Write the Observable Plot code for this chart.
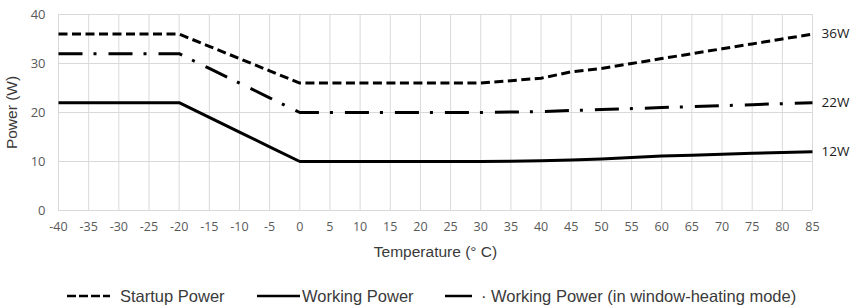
<!DOCTYPE html>
<html>
<head>
<meta charset="utf-8">
<script src="https://cdn.jsdelivr.net/npm/d3@7"></script>
<script src="https://cdn.jsdelivr.net/npm/@observablehq/plot@0.6"></script>
<style>
  html, body { margin: 0; padding: 0; background: #fff; }
  #chart { width: 859px; }
  .legend { position: relative; height: 26px; font-family: "Liberation Sans", Arial, sans-serif; font-size: 16.5px; color: #3a3a3a; }
  .legend .item { position: absolute; top: 0; height: 26px; display: flex; align-items: center; white-space: nowrap; }
  .legend svg { display: block; }
</style>
</head>
<body>
<div id="chart"></div>
<script>
const temperatures = [-40,-35,-30,-25,-20,-15,-10,-5,0,5,10,15,20,25,30,35,40,45,50,55,60,65,70,75,80,85];
const startupPower = [36,36,36,36,36,33.5,31,28.5,26,26,26,26,26,26,26,26.5,27,28.3,29,30,31,32,33,34,35,36];
const workingPower = [22,22,22,22,22,19,16,13,10,10,10,10,10,10,10,10.05,10.15,10.3,10.5,10.8,11.1,11.3,11.5,11.7,11.85,12];
const heatingPower = [32,32,32,32,32,29,26,23,20,20,20,20,20,20,20,20.1,20.2,20.4,20.6,20.8,21,21.2,21.4,21.6,21.8,22];
const seriesNames = ["Startup Power", "Working Power", "Working Power (in window-heating mode)"];
const legendLabels = ["Startup Power", "Working Power", "\u00b7 Working Power (in window-heating mode)"];
const endLabels = ["36W", "12W", "22W"];
const yTicks = [0, 10, 20, 30, 40];

const styles = [
  {dash: "9,4.5", legendDash: "9,3", legendLeft: 67, legendW: 43, textGap: 10},
  {dash: null, legendDash: null, legendLeft: 257, legendW: 43, textGap: 2},
  {dash: "24,11,3,12", legendDash: "30,5", legendLeft: 445, legendW: 27, textGap: 9}
];

const seriesValues = [startupPower, workingPower, heatingPower];
const rows = [];
seriesValues.forEach((vals, si) => {
  vals.forEach((v, i) => rows.push({series: seriesNames[si], t: temperatures[i], p: v}));
});
const lastRows = seriesValues.map((vals, si) => ({series: seriesNames[si], t: temperatures[temperatures.length - 1], p: vals[vals.length - 1], label: endLabels[si]}));

const marks = [
  Plot.gridX(temperatures, {stroke: "#d9d9d9", strokeOpacity: 1, strokeWidth: 1}),
  Plot.gridY(yTicks, {stroke: "#d9d9d9", strokeOpacity: 1, strokeWidth: 1}),
  Plot.axisX(temperatures, {tickSize: 0, tickPadding: 12, fontSize: 12.5, fill: "#595959", fontFamily: "Open Sans", label: null, tickFormat: d => String(d)}),
  Plot.axisY(yTicks, {tickSize: 0, tickPadding: 13, fontSize: 13, fill: "#595959", fontFamily: "Open Sans", label: null, tickFormat: d => String(d)}),
  Plot.text(["Temperature (\u00b0 C)"], {frameAnchor: "bottom", dy: 46, fontSize: 15.5, fontFamily: "Liberation Sans", fill: "#3a3a3a"}),
  Plot.text(["Power (W)"], {frameAnchor: "left", textAnchor: "middle", dx: -46, rotate: -90, fontSize: 15.5, fontFamily: "Liberation Sans", fill: "#3a3a3a"})
];
seriesNames.forEach((name, si) => {
  marks.push(Plot.line(rows.filter(r => r.series === name), {x: "t", y: "p", stroke: "#000", strokeWidth: 3, strokeDasharray: styles[si].dash, strokeLinejoin: "round", strokeLinecap: "butt"}));
});
marks.push(Plot.text(lastRows, {x: "t", y: "p", text: "label", dx: 9, textAnchor: "start", fontSize: 13.5, fontFamily: "Open Sans", fill: "#1a1a1a"}));

const chart = Plot.plot({
  width: 859,
  height: 283,
  marginLeft: 58,
  marginRight: 47,
  marginTop: 14,
  marginBottom: 73,
  style: {background: "#fff", overflow: "visible"},
  x: {domain: [-40, 85]},
  y: {domain: [0, 40]},
  marks
});
document.getElementById("chart").appendChild(chart);

const legend = document.createElement("div");
legend.className = "legend";
styles.forEach((s, i) => {
  const item = document.createElement("div");
  item.className = "item";
  item.style.left = s.legendLeft + "px";
  const ns = "http://www.w3.org/2000/svg";
  const svg = document.createElementNS(ns, "svg");
  svg.setAttribute("width", s.legendW);
  svg.setAttribute("height", 10);
  const line = document.createElementNS(ns, "line");
  line.setAttribute("x1", 0); line.setAttribute("x2", s.legendW);
  line.setAttribute("y1", 5); line.setAttribute("y2", 5);
  line.setAttribute("stroke", "#000"); line.setAttribute("stroke-width", 2.5);
  if (s.legendDash) line.setAttribute("stroke-dasharray", s.legendDash);
  svg.appendChild(line);
  item.appendChild(svg);
  const span = document.createElement("span");
  span.textContent = legendLabels[i];
  span.style.marginLeft = s.textGap + "px";
  item.appendChild(span);
  legend.appendChild(item);
});
document.getElementById("chart").appendChild(legend);
</script>
</body>
</html>
